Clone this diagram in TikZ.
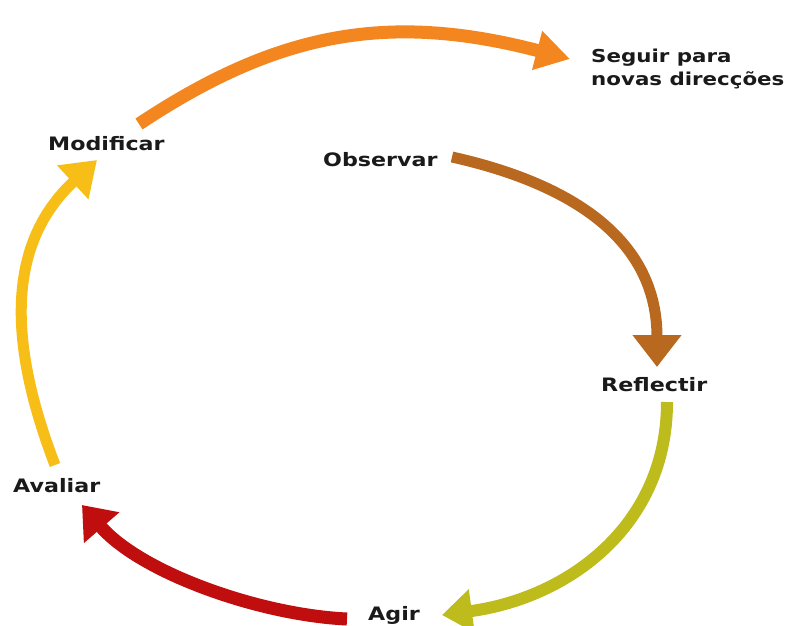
\documentclass[tikz,border=0pt]{standalone}
\usepackage{fontspec}
\setmainfont{DejaVu Sans}[FakeStretch=1.2]
\usetikzlibrary{arrows.meta}
\definecolor{cOrange}{HTML}{F3861F}
\definecolor{cBrown}{HTML}{B8681F}
\definecolor{cOlive}{HTML}{BEBB1C}
\definecolor{cRed}{HTML}{C00E0E}
\definecolor{cYellow}{HTML}{F6BE16}
\definecolor{txt}{HTML}{1A1A1A}
\begin{document}
\begin{tikzpicture}[x=1pt,y=-1pt,
  lbl/.style={font=\bfseries\fontsize{18.5}{23}\selectfont, text=txt, inner sep=0pt, anchor=base west, align=left},
  cyc/.style n args={4}{draw=#1, line width=#2, -{Triangle[width=#3, length=#4]}}]
\useasboundingbox[fill=white] (0,0) rectangle (791,625);
% labels
\node[lbl, font=\bfseries\fontsize{17.8}{23}\selectfont] (seguir) at (591,85) {Seguir para\\novas direcções};
\node[lbl] (modificar) at (48,150) {Modificar};
\node[lbl] (observar) at (323,166) {Observar};
\node[lbl] (reflectir) at (601,391) {Reflectir};
\node[lbl] (agir) at (368,620) {Agir};
\node[lbl] (avaliar) at (13,492) {Avaliar};
% arrow end points
\coordinate (oS) at (139,124);
\coordinate (oT) at (570,59);
\coordinate (bS) at (452,157);
\coordinate (bT) at (657,367);
\coordinate (gS) at (667,402);
\coordinate (gT) at (442,615);
\coordinate (rS) at (347,619);
\coordinate (rT) at (82,505);
\coordinate (yS) at (55,465);
\coordinate (yT) at (97,160);
% arrows
\draw[cyc={cOrange}{13pt}{38pt}{34pt}] (oS) .. controls (279,31) and (390,12) .. (oT);
\draw[cyc={cBrown}{11pt}{47pt}{32pt}] (bS) .. controls (555,180) and (657,230) .. (bT);
\draw[cyc={cOlive}{12pt}{42pt}{30pt}] (gS) .. controls (667,526) and (568,598) .. (gT);
\draw[cyc={cRed}{13pt}{45pt}{30pt}] (rS) .. controls (260,615) and (141,573) .. (rT);
\draw[cyc={cYellow}{11pt}{44pt}{33pt}] (yS) .. controls (9,345) and (5,245) .. (yT);
\end{tikzpicture}
\end{document}
